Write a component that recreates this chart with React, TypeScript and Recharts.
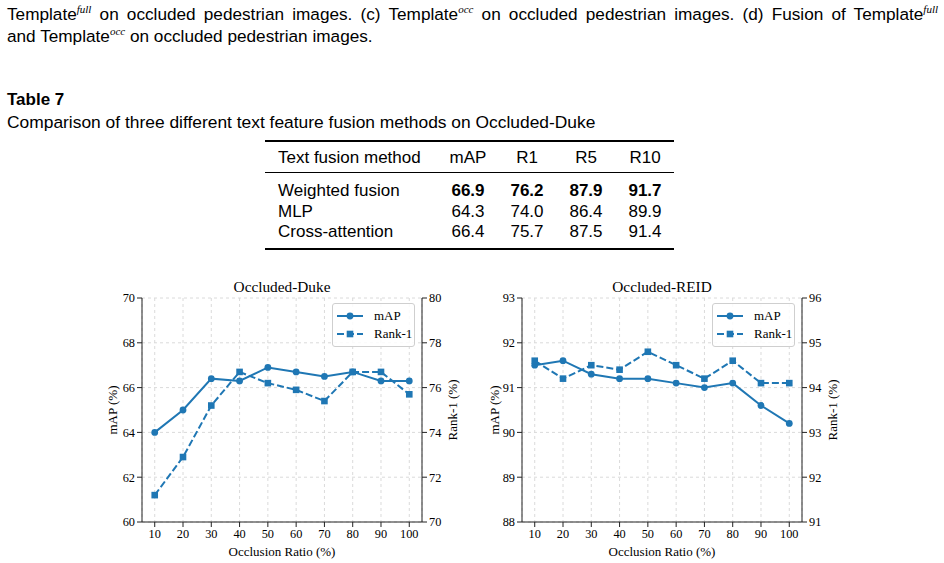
import React from 'react';
import { LineChart, Line, XAxis, YAxis, CartesianGrid, Legend } from 'recharts';

// occlusion ratio sweep (%)
const ratios = [10, 20, 30, 40, 50, 60, 70, 80, 90, 100];

// Occluded-Duke
const dukeMap = [64.0, 65.0, 66.4, 66.3, 66.9, 66.7, 66.5, 66.7, 66.3, 66.3];
const dukeRank1 = [71.2, 72.9, 75.2, 76.7, 76.2, 75.9, 75.4, 76.7, 76.7, 75.7];
const dukeMapTicks = [60, 62, 64, 66, 68, 70];
const dukeRankTicks = [70, 72, 74, 76, 78, 80];

// Occluded-REID
const reidMap = [91.5, 91.6, 91.3, 91.2, 91.2, 91.1, 91.0, 91.1, 90.6, 90.2];
const reidRank1 = [94.6, 94.2, 94.5, 94.4, 94.8, 94.5, 94.2, 94.6, 94.1, 94.1];
const reidMapTicks = [88, 89, 90, 91, 92, 93];
const reidRankTicks = [91, 92, 93, 94, 95, 96];

// Table 7
const tableHeader = ['Text fusion method', 'mAP', 'R1', 'R5', 'R10'];
const fusionMethods = ['Weighted fusion', 'MLP', 'Cross-attention'];
const fusionMap = [66.9, 64.3, 66.4];
const fusionR1 = [76.2, 74.0, 75.7];
const fusionR5 = [87.9, 86.4, 87.5];
const fusionR10 = [91.7, 89.9, 91.4];

const BLUE = '#1f77b4';
const SPINE = '#222';
const SERIF = '"Liberation Serif", "Times New Roman", serif';
const SANS = '"Liberation Sans", Arial, sans-serif';

const Square = (props: any) => {
  const { cx, cy, index } = props;
  if (cx == null || cy == null) return null;
  return <rect key={`sq-${index}`} x={cx - 3.3} y={cy - 3.3} width={6.6} height={6.6} fill={BLUE} />;
};

const LegendBox = () => {
  const rows = [
    { name: 'mAP', dashed: false },
    { name: 'Rank-1', dashed: true },
  ];
  return (
    <div
      style={{
        border: '1px solid #cfcfcf',
        borderRadius: 3,
        background: 'rgba(255,255,255,0.85)',
        padding: '3px 4px',
        fontFamily: SERIF,
        fontSize: 13,
        color: '#000',
        boxSizing: 'border-box',
        width: 83,
        whiteSpace: 'nowrap',
      }}
    >
      {rows.map((r) => (
        <div key={r.name} style={{ display: 'flex', alignItems: 'center', height: 18 }}>
          <svg width={26} height={18} style={{ display: 'block', flex: 'none' }}>
            <line x1={0} y1={9} x2={26} y2={9} stroke={BLUE} strokeWidth={2} strokeDasharray={r.dashed ? '7 3' : undefined} />
            {r.dashed ? (
              <rect x={13 - 3.3} y={9 - 3.3} width={6.6} height={6.6} fill={BLUE} />
            ) : (
              <circle cx={13} cy={9} r={3.4} fill={BLUE} />
            )}
          </svg>
          <span style={{ marginLeft: 11 }}>{r.name}</span>
        </div>
      ))}
    </div>
  );
};

type PanelProps = {
  left: number;
  width: number;
  title: string;
  mapValues: number[];
  rankValues: number[];
  mapTicks: number[];
  rankTicks: number[];
  leftAxisWidth: number;
  rightAxisWidth: number;
  leftLabelOffset: number;
  rightLabelOffset: number;
};

const Panel = ({
  left, width, title, mapValues, rankValues, mapTicks, rankTicks,
  leftAxisWidth, rightAxisWidth, leftLabelOffset, rightLabelOffset,
}: PanelProps) => {
  const rows = ratios.map((r, i) => ({ ratio: r, map: mapValues[i], rank1: rankValues[i] }));
  const plotWidth = width - leftAxisWidth - rightAxisWidth;
  const tick = { fontSize: 12.3, fill: '#000', fontFamily: SERIF };
  const axisLabel = { fontSize: 13, fill: '#000', fontFamily: SERIF, textAnchor: 'middle' as const };

  return (
    <div style={{ position: 'absolute', left, top: 270, width, height: 290 }}>
      <div
        style={{
          position: 'absolute',
          left: leftAxisWidth,
          width: plotWidth,
          top: 7,
          textAlign: 'center',
          fontFamily: SERIF,
          fontSize: 15.3,
          lineHeight: '20px',
        }}
      >
        {title}
      </div>
      <LineChart width={width} height={290} data={rows} margin={{ top: 28, right: 0, bottom: 0, left: 0 }}>
        <CartesianGrid yAxisId="left" stroke="#dadada" strokeDasharray="3 3" />
        <XAxis
          dataKey="ratio"
          type="number"
          domain={[5.5, 104.5]}
          ticks={ratios}
          height={38}
          tick={tick}
          tickSize={5}
          tickMargin={2}
          axisLine={{ stroke: SPINE }}
          tickLine={{ stroke: SPINE }}
          label={{ value: 'Occlusion Ratio (%)', position: 'insideBottom', offset: 4, style: axisLabel }}
        />
        <XAxis
          xAxisId="top"
          orientation="top"
          dataKey="ratio"
          type="number"
          domain={[5.5, 104.5]}
          height={0}
          tick={false}
          tickLine={false}
          axisLine={{ stroke: SPINE }}
        />
        <YAxis
          yAxisId="left"
          domain={[mapTicks[0], mapTicks[mapTicks.length - 1]]}
          ticks={mapTicks}
          width={leftAxisWidth}
          tick={tick}
          tickSize={5}
          tickMargin={2}
          axisLine={{ stroke: SPINE }}
          tickLine={{ stroke: SPINE }}
          label={{ value: 'mAP (%)', angle: -90, position: 'insideLeft', offset: leftLabelOffset, style: axisLabel }}
        />
        <YAxis
          yAxisId="right"
          orientation="right"
          domain={[rankTicks[0], rankTicks[rankTicks.length - 1]]}
          ticks={rankTicks}
          width={rightAxisWidth}
          tick={tick}
          tickSize={5}
          tickMargin={2}
          axisLine={{ stroke: SPINE }}
          tickLine={{ stroke: SPINE }}
          label={{ value: 'Rank-1 (%)', angle: -90, position: 'insideRight', offset: rightLabelOffset, style: axisLabel }}
        />
        <Legend
          layout="vertical"
          align="center"
          verticalAlign="middle"
          content={<LegendBox />}
          wrapperStyle={{ left: leftAxisWidth + plotWidth - 7 - 83, top: 33, width: 83, height: 42 }}
        />
        <Line
          yAxisId="left"
          dataKey="map"
          name="mAP"
          stroke={BLUE}
          strokeWidth={2}
          dot={{ r: 3.4, fill: BLUE, stroke: BLUE, strokeWidth: 0 }}
          isAnimationActive={false}
        />
        <Line
          yAxisId="right"
          dataKey="rank1"
          name="Rank-1"
          stroke={BLUE}
          strokeWidth={2}
          strokeDasharray="7 3"
          dot={Square}
          isAnimationActive={false}
        />
      </LineChart>
    </div>
  );
};

const Sup = ({ children }: { children: React.ReactNode }) => (
  <sup style={{ fontFamily: SERIF, fontStyle: 'italic', fontSize: 11, lineHeight: 0 }}>{children}</sup>
);

const FusionTable = () => {
  const cols = [fusionMap, fusionR1, fusionR5, fusionR10];
  const best = cols.map((c) => Math.max(...c));
  const colCenters = [468, 527, 586, 645];
  const rowCenters = [191, 212, 232];
  const cell = (text: string, cx: number, cy: number, bold: boolean) => (
    <div
      key={`${cx}-${cy}`}
      style={{
        position: 'absolute',
        left: cx - 30,
        width: 60,
        top: cy - 11,
        height: 22,
        lineHeight: '22px',
        textAlign: 'center',
        fontWeight: bold ? 700 : 400,
      }}
    >
      {text}
    </div>
  );
  return (
    <div style={{ fontFamily: SANS, fontSize: 17, color: '#000' }}>
      <div style={{ position: 'absolute', left: 265, width: 409, top: 140, height: 2, background: '#000' }} />
      <div style={{ position: 'absolute', left: 265, width: 409, top: 172, height: 1, background: '#000' }} />
      <div style={{ position: 'absolute', left: 265, width: 409, top: 248, height: 2, background: '#000' }} />
      <div style={{ position: 'absolute', left: 278, top: 147, lineHeight: '22px' }}>{tableHeader[0]}</div>
      {tableHeader.slice(1).map((h, i) => cell(h, colCenters[i], 158, false))}
      {fusionMethods.map((m, r) => (
        <React.Fragment key={m}>
          <div style={{ position: 'absolute', left: 278, top: rowCenters[r] - 11, lineHeight: '22px' }}>{m}</div>
          {cols.map((c, i) => cell(c[r].toFixed(1), colCenters[i], rowCenters[r], c[r] === best[i]))}
        </React.Fragment>
      ))}
    </div>
  );
};

export default function App() {
  return (
    <div style={{ position: 'absolute', left: 0, top: 0, width: 944, height: 563, background: '#fff', overflow: 'hidden', color: '#000' }}>
      <div style={{ position: 'absolute', left: 7, top: 3, width: 931, fontFamily: SANS, fontSize: 17.2, lineHeight: '22px' }}>
        <div style={{ textAlign: 'justify', textAlignLast: 'justify' }}>
          Template<Sup>full</Sup> on occluded pedestrian images. (c) Template<Sup>occ</Sup> on occluded pedestrian images. (d) Fusion of Template<Sup>full</Sup>
        </div>
        <div>
          and Template<Sup>occ</Sup> on occluded pedestrian images.
        </div>
      </div>
      <div style={{ position: 'absolute', left: 7, top: 89, fontFamily: SANS, fontSize: 17, lineHeight: '22px', fontWeight: 700 }}>Table 7</div>
      <div style={{ position: 'absolute', left: 7, top: 111, fontFamily: SANS, fontSize: 17.4, lineHeight: '22px' }}>
        Comparison of three different text feature fusion methods on Occluded-Duke
      </div>
      <FusionTable />
      <Panel
        left={90}
        width={380}
        title="Occluded-Duke"
        mapValues={dukeMap}
        rankValues={dukeRank1}
        mapTicks={dukeMapTicks}
        rankTicks={dukeRankTicks}
        leftAxisWidth={52}
        rightAxisWidth={48}
        leftLabelOffset={22}
        rightLabelOffset={18}
      />
      <Panel
        left={480}
        width={360}
        title="Occluded-REID"
        mapValues={reidMap}
        rankValues={reidRank1}
        mapTicks={reidMapTicks}
        rankTicks={reidRankTicks}
        leftAxisWidth={42}
        rightAxisWidth={38}
        leftLabelOffset={14}
        rightLabelOffset={8}
      />
    </div>
  );
}
